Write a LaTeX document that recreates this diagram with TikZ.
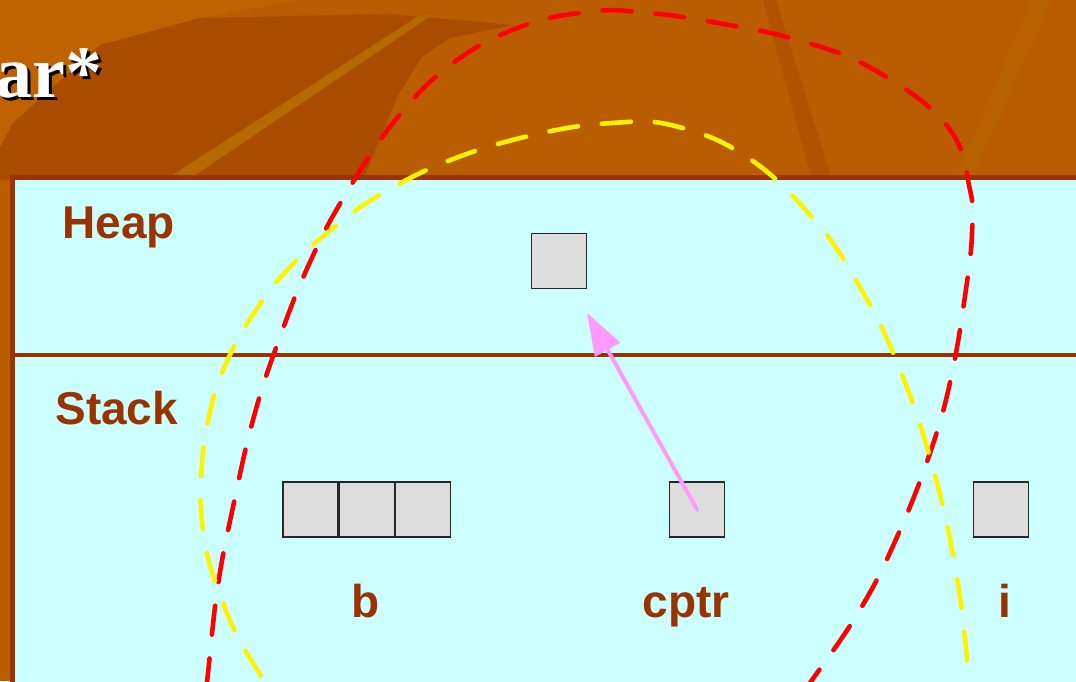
\documentclass[tikz,border=0pt]{standalone}
\usepackage{fontspec}
\setmainfont{Liberation Serif}
\setsansfont{Liberation Sans}
\usetikzlibrary{arrows.meta, positioning}
\definecolor{slidebg}{HTML}{BA5C00}
\definecolor{slidedark}{HTML}{AA4C00}
\definecolor{slidelight}{HTML}{C16200}
\definecolor{slidestripe}{HTML}{B56A00}
\definecolor{panelfill}{HTML}{CCFFFF}
\definecolor{memborder}{HTML}{993300}
\definecolor{cellgray}{HTML}{DDDDDD}
\definecolor{ptrpink}{HTML}{FF99FF}

\begin{document}
\begin{tikzpicture}[x=0.5pt, y=-0.5pt,
  >={Triangle[length=21pt,width=14pt]},
  cell/.style={draw=black!85, line width=0.6pt, fill=cellgray, minimum size=27.5pt, inner sep=0pt},
  region/.style={font=\sffamily\bfseries\fontsize{23}{27}\selectfont, text=memborder, anchor=base west, inner sep=0pt},
  varname/.style={font=\sffamily\bfseries\fontsize{23}{27}\selectfont, text=memborder, anchor=base, inner sep=0pt},
  scopeline/.style={line width=2.3pt, line cap=round, dash pattern=on 14.5pt off 12pt}]
  \useasboundingbox (0,0) rectangle (1076,681);
  \clip (0,0) rectangle (1076,681);
  % slide background
  \fill[slidebg] (0,0) rectangle (1076,681);
  \fill[slidelight] (0,0) -- (300,0) -- (200,18) -- (100,45) -- (13,123) -- (0,147) -- cycle;
  \fill[slidedark] (200,18) -- (390,14) -- (513,25) -- (450,38) -- (422,57) -- (398,95) -- (363,180) -- (0,180) -- (0,147) -- (13,123) -- (100,45) -- cycle;
  \fill[slidestripe] (165,180) -- (188,180) -- (432,15) -- (420,15) -- cycle;
  \fill[slidedark!60!slidebg] (763,0) -- (776,0) -- (832,180) -- (812,180) -- cycle;
  \fill[slidestripe!50!slidebg] (1030,0) -- (1052,0) -- (972,180) -- (955,180) -- cycle;
  % title
  \node[font=\bfseries\fontsize{37}{40}\selectfont, text=black, anchor=base east, inner sep=0pt] (titleshadow) at (106,100) {ar*};
  \node[font=\bfseries\fontsize{37}{40}\selectfont, text=white, anchor=base east, inner sep=0pt] (title) at (103,97) {ar*};
  % memory panel
  \draw[memborder, line width=2.5pt, fill=panelfill] (12.5,177.5) rectangle (1100,720);
  \draw[memborder, line width=2pt] (12.5,355) -- (1100,355);
  \node[region] (heap) at (62,238) {Heap};
  \node[region] (stack) at (55,424) {Stack};
  % cells
  \node[cell] (heapcell) at (559,261) {};
  \node[cell] (b1) at (310.5,509.5) {};
  \node[cell, right=0pt of b1] (b2) {};
  \node[cell, right=0pt of b2] (b3) {};
  \node[cell] (cptr) at (697,509.5) {};
  \node[cell] (i) at (1001,509.5) {};
  \node[varname] (blabel) at (366,617) {b};
  \node[varname] (cptrlabel) at (686,617) {cptr};
  \node[varname] (ilabel) at (1005,617) {i};
  % pointer
  \coordinate (target) at ([yshift=-12pt]heapcell.south east);
  \draw[->, ptrpink, line width=2pt, line cap=round] (cptr.center) -- (target);
  % scopes
  \draw[scopeline, red] plot[smooth, tension=0.7] coordinates {(201,740) (208,673) (218,585) (233,507) (253,420) (277,345) (310,262) (347,192) (397,118) (453,63) (520,27) (587,12) (640,12) (718,23) (805,42) (878,72) (948,127) (970,190) (972,233) (966,289) (951,378) (930,453) (897,537) (861,608) (812,680) (770,735)};
  \draw[scopeline, yellow] plot[smooth, tension=0.7] coordinates {(290,720) (244,648) (221,597) (205,543) (201,480) (210,412) (228,359) (256,310) (290,267) (332,229) (378,196) (448,161) (533,135) (612,123) (675,126) (747,157) (812,217) (857,282) (897,362) (933,468) (957,578) (969,681) (971,730)};
\end{tikzpicture}
\end{document}
